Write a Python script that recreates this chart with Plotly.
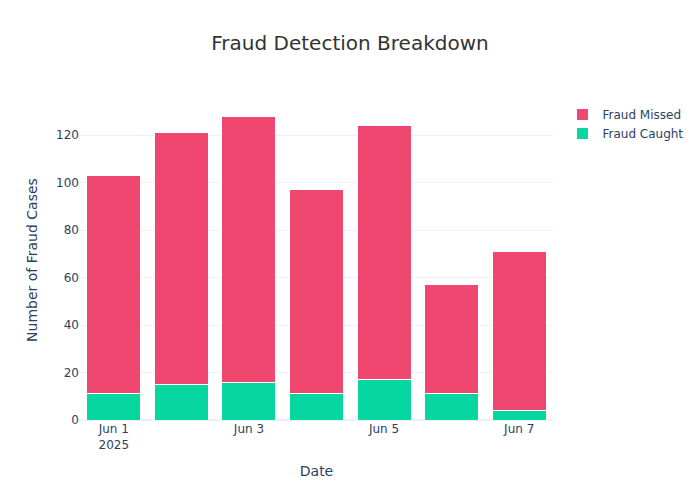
import plotly.graph_objects as go

dates = ["2025-06-01", "2025-06-02", "2025-06-03", "2025-06-04", "2025-06-05", "2025-06-06", "2025-06-07"]
fraud_caught = [11, 15, 16, 11, 17, 11, 4]
fraud_missed = [92, 106, 112, 86, 107, 46, 67]

fig = go.Figure()
fig.add_trace(go.Bar(x=dates, y=fraud_caught, name="Fraud Caught",
                     marker=dict(color="#06D6A0", line=dict(color="white", width=1))))
fig.add_trace(go.Bar(x=dates, y=fraud_missed, name="Fraud Missed",
                     marker=dict(color="#EF476F", line=dict(color="white", width=1))))

fig.update_layout(
    template="plotly_white",
    barmode="stack",
    font=dict(family="DejaVu Sans"),
    title=dict(text="Fraud Detection Breakdown", x=0.5,
               font=dict(size=20, color="#333333")),
    xaxis_title="Date",
    yaxis_title="Number of Fraud Cases",
    width=700,
    height=500,
)

# drop the default page margin so the figure sits at the window corner
fig.write_html("out.html", config={"displayModeBar": False},
               post_script="document.body.style.margin = '0';")
